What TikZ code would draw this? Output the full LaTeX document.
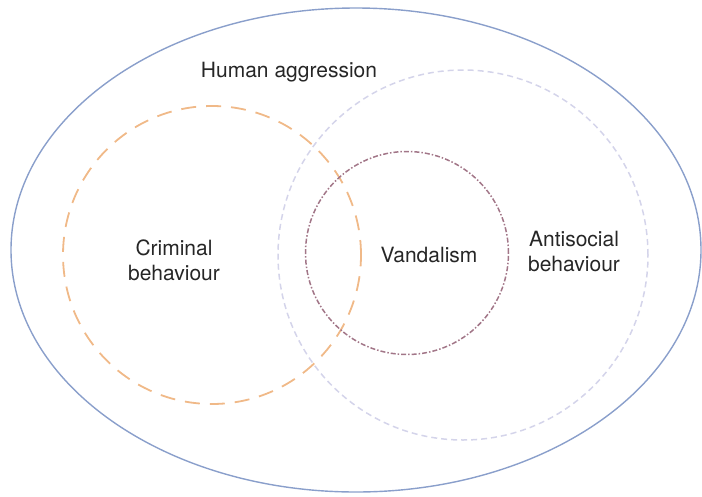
\documentclass[tikz,border=0pt]{standalone}
\usepackage{fontspec}
\setmainfont{TeX Gyre Heros}
\usetikzlibrary{shapes.geometric}
\definecolor{outerblue}{HTML}{8A9FCB}
\definecolor{crimorange}{HTML}{F0B988}
\definecolor{antilav}{HTML}{D4D4EA}
\definecolor{vandmauve}{HTML}{A27688}
\tikzstyle{label}=[align=center, font=\fontsize{21}{25}\selectfont, text=black!85]
\tikzstyle{ring}=[circle, inner sep=0pt]

\begin{document}
\begin{tikzpicture}[x=1pt,y=-1pt]
		\useasboundingbox (0,0) rectangle (702,496);
		\node[ellipse, draw=outerblue, line width=1.4pt, minimum width=690pt, minimum height=484pt] (aggr)at(356,250){};
		\node[ring, draw=antilav, line width=1.5pt, dash pattern=on 6pt off 4pt, minimum size=370pt] (anti)at(463,255){};
		\node[ring, draw=crimorange, line width=1.8pt, dash pattern=on 15pt off 10pt, minimum size=298pt] (crim)at(212,255){};
		\node[ring, draw=vandmauve, line width=1.5pt, dash pattern=on 5pt off 2pt on 1.5pt off 2pt, minimum size=203pt] (vand)at(407,253){};
		
		\node[label] (T1)at(289,72){Human aggression};
		\node[label] (T2)at(174,260){Criminal\\behaviour};
		\node[label] (T3)at(429,255){Vandalism};
		\node[label] (T4)at(574,251){Antisocial\\behaviour};
	\end{tikzpicture}
\end{document}
